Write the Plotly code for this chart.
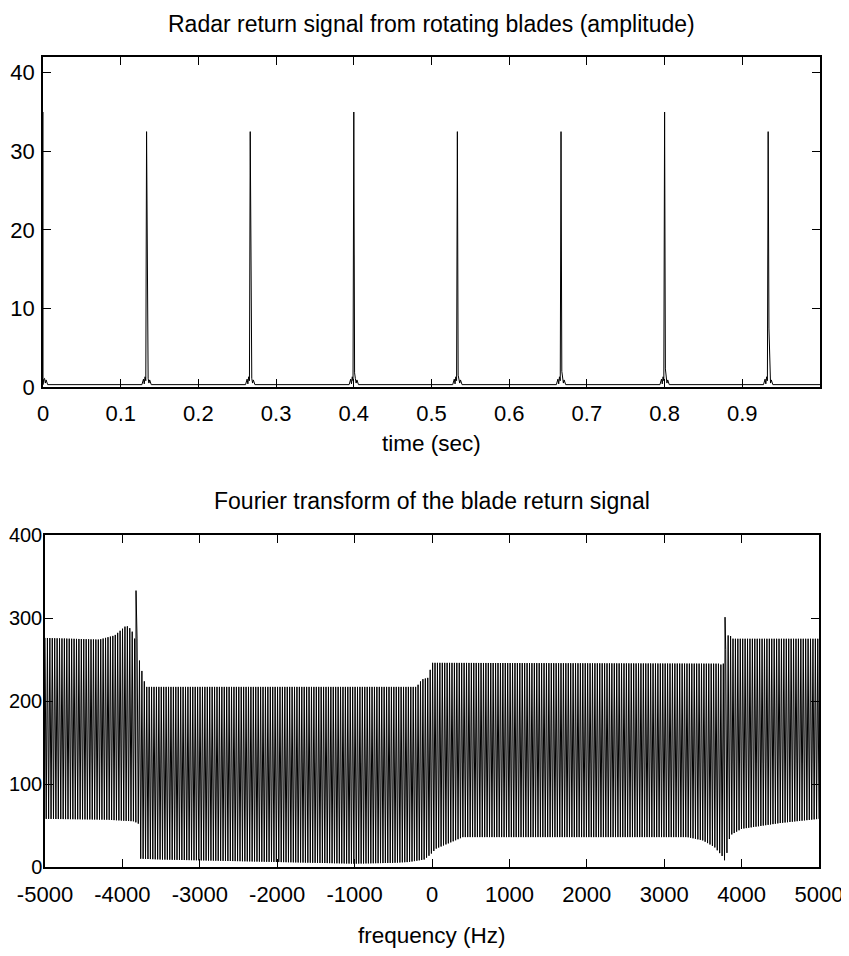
import numpy as np
import plotly.graph_objects as go

# ---------------- data: top panel (radar return amplitude) ----------------
spike_times = [0.0, 0.1333, 0.2667, 0.4, 0.5333, 0.6667, 0.8, 0.9333]
spike_peaks = [35.0, 32.5, 32.5, 35.0, 32.5, 32.5, 35.0, 32.5]
spike_shoulders = [1.0, 6.0, 2.3, 1.8, 1.5, 2.0, 2.3, 7.5]
sidelobe_offsets = [-0.006, -0.004, -0.003, -0.002, 0.002, 0.003, 0.004, 0.006]
sidelobe_heights = [0.3, 1.0, 0.4, 1.3, 1.1, 0.5, 0.9, 0.3]
baseline_level = 0.3

# ---------------- data: bottom panel (Fourier transform envelopes) ----------------
upper_freq = [-5000, -4300, -4100, -3950, -3880, -3850, -3800, -3780, -3700, -200, -130, -50, 0, 3700, 3760, 3830, 3890, 5000]
upper_vals = [276, 274, 279, 291, 286, 275, 276, 249, 217, 217, 226, 228, 246, 245, 243, 281, 275, 275]
lower_freq = [-5000, -4200, -3850, -3790, -3770, -3500, -3000, -2000, -1500, -1000, -500, -300, -100, -20, 50, 200, 400, 3300, 3500, 3650, 3760, 3790, 3850, 4000, 4500, 5000]
lower_vals = [58, 57, 55, 52, 10, 9, 8, 6, 5, 4, 5, 6, 9, 15, 22, 28, 36, 36, 32, 24, 12, 6, 38, 46, 53, 58]
peak_freqs = [-3824, 3786]
peak_vals = [333, 301]
n_lines = 640

freq_ticks = [-5000, -4000, -3000, -2000, -1000, 0, 1000, 2000, 3000, 4000, 5000]
time_ticks = [0, 0.1, 0.2, 0.3, 0.4, 0.5, 0.6, 0.7, 0.8, 0.9]
amp_ticks = [0, 10, 20, 30, 40]
mag_ticks = [0, 100, 200, 300, 400]

# ---------------- build traces ----------------
tx, ty = [], []
for t, p, s in zip(spike_times, spike_peaks, spike_shoulders):
    pts = [(t + o, h) for o, h in zip(sidelobe_offsets, sidelobe_heights)]
    pts += [(t, p), (t + 0.001, s), (t - 0.001, 0.8)]
    pts = [(a, b) for a, b in pts if 0 <= a <= 1]
    tx += [a for a, b in pts]
    ty += [b for a, b in pts]
tx += [0.0, 1.0]
ty += [baseline_level, baseline_level]
order = np.argsort(tx, kind="stable")
tx = np.array(tx)[order]
ty = np.array(ty)[order]

freq = np.linspace(-5000, 5000, n_lines)
up = np.interp(freq, upper_freq, upper_vals)
lo = np.interp(freq, lower_freq, lower_vals)
spec = np.where(np.arange(n_lines) % 2 == 0, up, lo)
freq = np.concatenate([freq, peak_freqs])
spec = np.concatenate([spec, peak_vals])
o2 = np.argsort(freq, kind="stable")
freq = freq[o2]
spec = spec[o2]

# page body has an 8px default margin: the figure is sized/positioned to compensate
OFF = 8
W, H = 849 - OFF, 956 - OFF
FONT = "Liberation Sans, Arial, sans-serif"

fig = go.Figure()
fig.add_trace(go.Scatter(x=tx, y=ty, mode="lines", line=dict(color="black", width=1),
                         xaxis="x", yaxis="y", showlegend=False, hoverinfo="skip"))
fig.add_trace(go.Scatter(x=freq, y=spec, mode="lines", line=dict(color="black", width=1),
                         xaxis="x2", yaxis="y2", showlegend=False, hoverinfo="skip"))

def px_x(p):
    return (p - OFF) / W

def px_y(p):
    return 1 - (p - OFF) / H

axis_common = dict(showgrid=False, zeroline=False, showline=True, linecolor="black", linewidth=1.5,
                   mirror="ticks", ticks="inside", ticklen=8, tickwidth=1, tickcolor="black",
                   automargin=False, ticklabeloverflow="allow")
xfont = dict(family=FONT, size=22, color="black")
yfont = dict(family=FONT, size=22, color="black")
yfont2 = dict(family=FONT, size=20, color="black")

fig.update_layout(
    template="none",
    width=W, height=H, paper_bgcolor="white", plot_bgcolor="white",
    margin=dict(l=0, r=0, t=0, b=0, pad=0),
    xaxis=dict(domain=[px_x(43), px_x(820)], range=[0, 1], anchor="y",
               tickvals=time_ticks, ticktext=[f"{v:g}" for v in time_ticks],
               ticklabelstandoff=6, tickfont=xfont, **axis_common),
    yaxis=dict(domain=[px_y(387), px_y(57)], range=[0, 42], anchor="x",
               tickvals=amp_ticks, ticktext=[str(v) for v in amp_ticks],
               ticklabelstandoff=2, tickfont=yfont, **axis_common),
    xaxis2=dict(domain=[px_x(45), px_x(819)], range=[-5000, 5000], anchor="y2",
                tickvals=freq_ticks, ticktext=[str(v) for v in freq_ticks],
                ticklabelstandoff=7, tickfont=xfont, **axis_common),
    yaxis2=dict(domain=[px_y(867), px_y(535)], range=[0, 400], anchor="x2",
                tickvals=mag_ticks, ticktext=[str(v) for v in mag_ticks],
                ticklabelstandoff=-3, tickfont=yfont2, **axis_common),
)

def label(text, xc, yc, size=23):
    fig.add_annotation(text=text, x=px_x(xc), y=px_y(yc), xref="paper", yref="paper",
                       xanchor="center", yanchor="middle", showarrow=False,
                       font=dict(family=FONT, size=size, color="black"))

label("Radar return signal from rotating blades (amplitude)", 431, 24)
label("time (sec)", 431, 443, 22.5)
label("Fourier transform of the blade return signal", 432, 501)
label("frequency (Hz)", 432, 935, 22.5)

fig.write_html("out.html")
